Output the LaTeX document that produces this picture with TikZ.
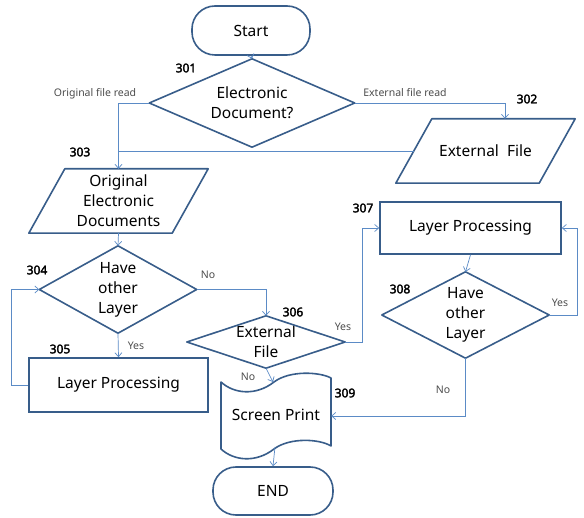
\documentclass[tikz,border=0pt]{standalone}
\usepackage{fontspec}
\setmainfont{Noto Sans}
\newfontfamily\numfont{Noto Sans}[FakeBold=2.5]
\usetikzlibrary{arrows.meta,calc}
\definecolor{shapeblue}{HTML}{385D8A}
\definecolor{connblue}{HTML}{5B8BC6}
\tikzset{
 mainfont/.style={font=\fontsize{15.5}{20}\selectfont},
 box/.style={draw=shapeblue, line width=1.6pt, rectangle, inner sep=0pt, align=center, mainfont},
 term/.style={box, rounded corners=23pt},
 ghost/.style={rectangle, inner sep=0pt, align=center, mainfont},
 outline/.style={draw=shapeblue, line width=1.6pt, line join=round},
 conn/.style={draw=connblue, line width=0.7pt, -{Straight Barb[length=4pt,width=7pt]}},
 plain/.style={draw=connblue, line width=0.7pt},
 num/.style={font=\numfont\fontsize{12}{14}\selectfont, inner sep=0pt},
 lbl/.style={font=\fontsize{10.5}{12}\selectfont, text=black!70, inner sep=0pt},
}
\begin{document}
\begin{tikzpicture}[x=1pt,y=-1pt]
\useasboundingbox (0,0) rectangle (584,518);
% terminals
\node[term, minimum width=118pt, minimum height=49pt] (start) at (251,30.5) {Start};
\node[term, minimum width=120pt, minimum height=48pt] (end) at (273,491) {END};
% decisions (drawn as diamonds over invisible boxes)
\node[ghost, minimum width=205pt, minimum height=88pt] (d301) at (252,103) {Electronic\\Document?};
\node[ghost, minimum width=157pt, minimum height=87pt] (d304) at (118,289.5) {Have\\other\\Layer};
\node[ghost, minimum width=158pt, minimum height=52pt] (d306) at (266,342) {External\\File};
\node[ghost, minimum width=167pt, minimum height=86pt] (d308) at (465.5,315) {Have\\other\\Layer};
\foreach \d in {d301,d304,d306,d308}
  \draw[outline] (\d.north) -- (\d.east) -- (\d.south) -- (\d.west) -- cycle;
% data (parallelograms)
\node[ghost, minimum width=179pt, minimum height=64pt] (p302) at (485.5,151) {External\ \ File};
\node[ghost, minimum width=179pt, minimum height=64pt] (p303) at (118.5,201) {Original\\Electronic\\Documents};
\foreach \p in {p302,p303}
  \draw[outline] ([xshift=36pt]\p.north west) -- (\p.north east) -- ([xshift=-36pt]\p.south east) -- (\p.south west) -- cycle;
% processes
\node[box, minimum width=179pt, minimum height=54pt] (b305) at (118.5,385) {Layer\ Processing};
\node[box, minimum width=181pt, minimum height=52pt] (b307) at (470.5,228) {Layer\ Processing};
% screen print (tape)
\node[ghost, minimum width=110pt, minimum height=72pt] (t309) at (276,415) {Screen Print};
\draw[outline] (221,382) .. controls (234,394) and (256,396) .. (274,382)
   .. controls (290,370) and (320,372) .. (331,378) -- (331,446)
   .. controls (320,439) and (290,437) .. (274,449)
   .. controls (256,463) and (234,461) .. (221,449) -- cycle;
\coordinate (c309top) at (273,382);
\coordinate (c309bot) at (275,447);
% connectors
\draw[conn] (start.south) -- (d301.north);
\draw[conn] (d301.west) -| (p303.north);
\draw[conn] (d301.east) -| ([xshift=19.5pt]p302.north);
\draw[plain] ([xshift=18pt]p302.west) -- (p302.west -| p303.north);
\draw[conn] (p303.south) -- (d304.north);
\draw[conn] (d304.south) -- (b305.north);
\draw[conn] (b305.west) -- ++(-17,0) |- (d304.west);
\draw[conn] (d304.east) -| (d306.north);
\draw[conn] (d306.east) -- ++(17,0) |- (b307.west);
\draw[conn] (b307.south) -- (d308.north);
\draw[conn] (d308.east) -- ++(28,0) |- (b307.east);
\draw[conn] (d308.south) |- ([yshift=-1pt]t309.east);
\draw[conn] (d306.south) -- (c309top);
\draw[conn] (c309bot) -- (end.north);
% labels
\node[lbl] (l1) at (95,94) {Original file read};
\node[lbl] (l2) at (405,93) {External file read};
\node[lbl] (l3) at (208,275) {No};
\node[lbl] (l4) at (136,346) {Yes};
\node[lbl] (l5) at (343,327) {Yes};
\node[lbl] (l6) at (560,303) {Yes};
\node[lbl] (l7) at (443,390) {No};
\node[lbl] (l8) at (248,377) {No};
% numbers
\node[num] (n301) at (186,68) {301};
\node[num] (n302) at (527,99) {302};
\node[num] (n303) at (80,152) {303};
\node[num] (n304) at (37,270) {304};
\node[num] (n305) at (60,349) {305};
\node[num] (n306) at (293,312) {306};
\node[num] (n307) at (363,208) {307};
\node[num] (n308) at (400,289) {308};
\node[num] (n309) at (345,393) {309};
\end{tikzpicture}
\end{document}
